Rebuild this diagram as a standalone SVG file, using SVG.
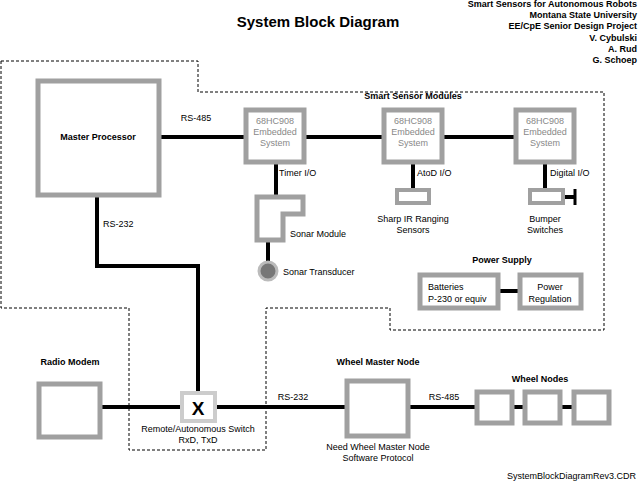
<svg xmlns="http://www.w3.org/2000/svg" width="640" height="482" viewBox="0 0 640 482">
<style>
text{font-family:"Liberation Sans",Arial,sans-serif;font-size:9px;fill:#000}
.b{font-weight:bold}
.m{text-anchor:middle}
.r{text-anchor:end}
.g{fill:#888}
.box{fill:#fff;stroke:#a0a0a0;stroke-width:5}
.ln{stroke:#000;stroke-width:4;fill:none}
</style>
<rect width="640" height="482" fill="#fff"/>
<text x="318" y="27" class="b m" style="font-size:15px">System Block Diagram</text>
<g class="b r">
<text x="637" y="7" class="b r">Smart Sensors for Autonomous Robots</text>
<text x="637" y="18" class="b r">Montana State University</text>
<text x="637" y="29" class="b r">EE/CpE Senior Design Project</text>
<text x="637" y="41" class="b r">V. Cybulski</text>
<text x="637" y="52" class="b r">A. Rud</text>
<text x="637" y="63" class="b r">G. Schoep</text>
</g>
<path d="M1,61H198V92H604V330H390V308H266V450H129V308H1Z" fill="none" stroke="#000" stroke-width="1" stroke-dasharray="3,2"/>
<g id="connectors">
<path class="ln" d="M160,137H516M447,137H516"/>
<path class="ln" d="M276,162V196M268,240V262M413,162V190M545,162V190M564,197H575M498,291H520"/>
<path d="M575,189V205" stroke="#000" stroke-width="3"/>
<path class="ln" d="M97,195V266H198V393M101,407H181M216,407H346M409,407H476M513,407H524M561,407H573"/>
</g>
<g id="master"><rect class="box" x="38" y="81" width="121" height="114"/><text x="98" y="140" class="b m">Master Processor</text></g>
<text x="196" y="121" class="m">RS-485</text>
<text x="103" y="227">RS-232</text>
<text x="413" y="99" class="b m">Smart Sensor Modules</text>
<g id="m1"><rect class="box" x="246" y="110" width="58" height="52"/><text x="275" y="124" class="m g">68HC908</text><text x="275" y="135" class="m g">Embedded</text><text x="275" y="146" class="m g">System</text></g>
<g id="m2"><rect class="box" x="384" y="110" width="58" height="52"/><text x="413" y="124" class="m g">68HC908</text><text x="413" y="135" class="m g">Embedded</text><text x="413" y="146" class="m g">System</text></g>
<g id="m3"><rect class="box" x="516" y="110" width="58" height="52"/><text x="545" y="124" class="m g">68HC908</text><text x="545" y="135" class="m g">Embedded</text><text x="545" y="146" class="m g">System</text></g>
<text x="279" y="176">Timer I/O</text>
<text x="417" y="176">AtoD I/O</text>
<text x="550" y="176">Digital I/O</text>
<g id="sonar"><path class="box" d="M257,197H303V214H283V240H257Z"/><text x="290" y="237">Sonar Module</text></g>
<g id="trans"><circle cx="268" cy="271" r="9" fill="#777" stroke="#bbb" stroke-width="3"/><text x="283" y="275">Sonar Transducer</text></g>
<g id="ir"><rect class="box" x="397" y="190" width="32" height="13" style="stroke-width:4"/><text x="413" y="222" class="m">Sharp IR Ranging</text><text x="413" y="233" class="m">Sensors</text></g>
<g id="bump"><rect class="box" x="530" y="190" width="33" height="13" style="stroke-width:4"/><text x="545" y="222" class="m">Bumper</text><text x="545" y="233" class="m">Switches</text></g>
<text x="502" y="263" class="b m">Power Supply</text>
<g id="bat"><rect class="box" x="420" y="275" width="78" height="33"/><text x="428" y="290">Batteries</text><text x="428" y="302">P-230 or equiv</text></g>
<g id="preg"><rect class="box" x="520" y="275" width="61" height="33"/><text x="550" y="290" class="m">Power</text><text x="550" y="302" class="m">Regulation</text></g>
<g id="radio"><rect class="box" x="39" y="384" width="61" height="53"/><text x="70" y="365" class="b m">Radio Modem</text></g>
<g id="sw"><rect x="182" y="393" width="33" height="28" fill="#fff" stroke="#ccc" stroke-width="4"/><text x="198" y="415" class="b m" style="font-size:19px">X</text><text x="198" y="432" class="m">Remote/Autonomous Switch</text><text x="198" y="443" class="m">RxD, TxD</text></g>
<text x="293" y="400" class="m">RS-232</text>
<g id="wmn"><rect class="box" x="347" y="381" width="61" height="55"/><text x="378" y="365" class="b m">Wheel Master Node</text><text x="378" y="450" class="m">Need Wheel Master Node</text><text x="378" y="461" class="m">Software Protocol</text></g>
<text x="444" y="400" class="m">RS-485</text>
<text x="540" y="382" class="b m">Wheel Nodes</text>
<g id="w1"><rect class="box" x="477" y="392" width="35" height="31"/></g>
<g id="w2"><rect class="box" x="525" y="392" width="35" height="31"/></g>
<g id="w3"><rect class="box" x="574" y="392" width="35" height="31"/></g>
<text x="636" y="479" class="r">SystemBlockDiagramRev3.CDR</text>
</svg>
